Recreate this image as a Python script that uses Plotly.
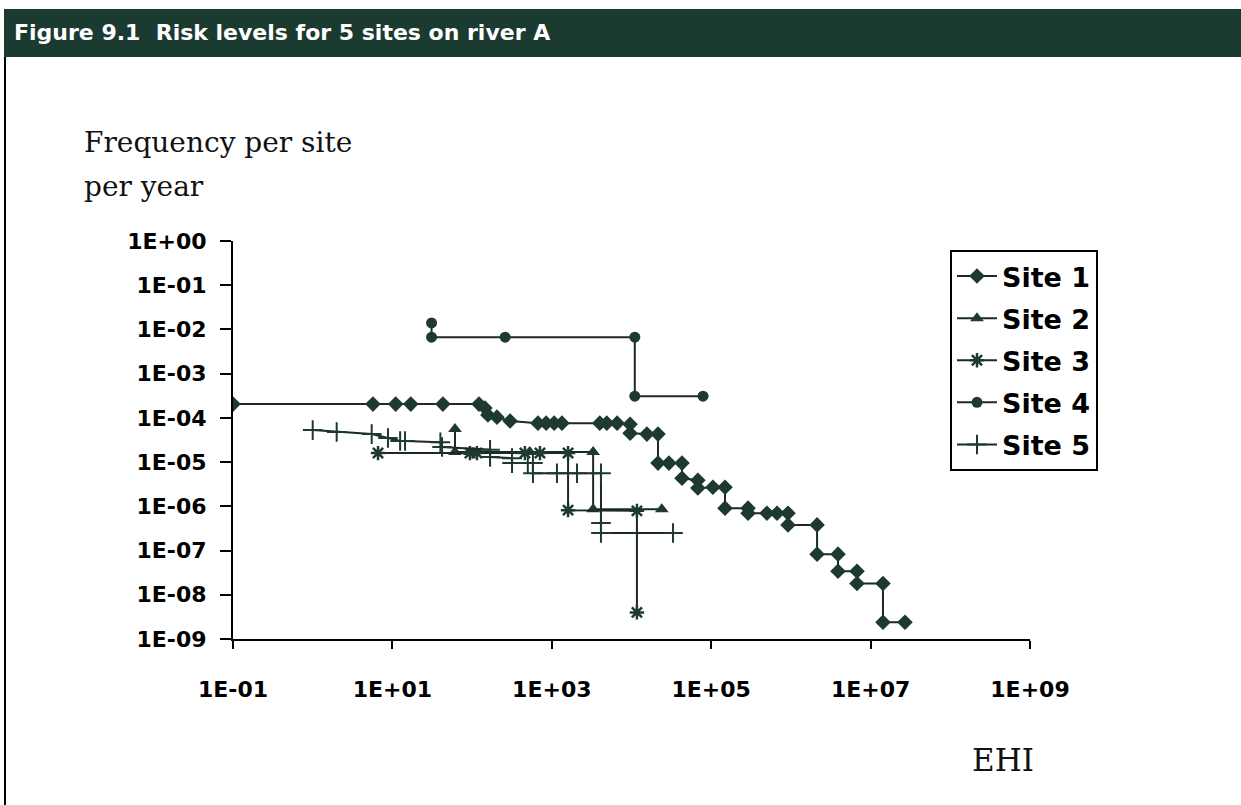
import plotly.graph_objects as go

# ---------------- data ----------------
site1_x = [0.1, 5.7, 11, 17, 43, 122, 145, 158, 205, 300, 670, 850, 1070, 1340,
           4000, 4900, 6600, 9600, 9600, 15600, 21500, 21500, 29500, 43000, 43000,
           68000, 68000, 105000, 149000, 149000, 290000, 290000, 500000, 670000,
           920000, 920000, 2.13e6, 2.13e6, 3.9e6, 3.9e6, 6.75e6, 6.75e6, 1.43e7,
           1.43e7, 2.7e7]
site1_y = [2.05e-4, 2.05e-4, 2.05e-4, 2.05e-4, 2.05e-4, 2.05e-4, 1.67e-4, 1.16e-4,
           1.04e-4, 8.5e-5, 7.6e-5, 7.6e-5, 7.6e-5, 7.6e-5, 7.6e-5, 7.6e-5, 7.6e-5,
           7.2e-5, 4.5e-5, 4.3e-5, 4.3e-5, 9.5e-6, 9.5e-6, 9.5e-6, 4.3e-6, 3.9e-6,
           2.6e-6, 2.7e-6, 2.7e-6, 9.1e-7, 9.1e-7, 7.0e-7, 7.0e-7, 7.0e-7, 7.0e-7,
           3.8e-7, 3.8e-7, 8.3e-8, 8.3e-8, 3.4e-8, 3.4e-8, 1.8e-8, 1.8e-8, 2.4e-9,
           2.4e-9]

site2_x = [61, 61, 94, 530, 3300, 3300, 24000]
site2_y = [5.6e-5, 1.7e-5, 1.7e-5, 1.7e-5, 1.7e-5, 8.6e-7, 8.6e-7]

site3_x = [6.6, 94, 115, 460, 710, 1600, 1600, 11700, 11700]
site3_y = [1.6e-5, 1.6e-5, 1.6e-5, 1.6e-5, 1.6e-5, 1.6e-5, 8.2e-7, 7.9e-7, 4.0e-9]

site4_x = [31, 31, 260, 11000, 11000, 79000]
site4_y = [1.4e-2, 6.7e-3, 6.7e-3, 6.7e-3, 3.1e-4, 3.1e-4]

site5_x = [1.0, 2.0, 5.5, 8.8, 12.5, 14.4, 40, 42, 168, 168, 317, 317, 500, 580,
           580, 1160, 2070, 4140, 4140, 4140, 33200]
site5_y = [5.3e-5, 4.8e-5, 4.3e-5, 3.5e-5, 3.0e-5, 3.0e-5, 2.8e-5, 2.2e-5, 1.9e-5,
           1.3e-5, 1.23e-5, 9.5e-6, 9.5e-6, 9.5e-6, 5.6e-6, 5.6e-6, 5.6e-6, 5.6e-6,
           4.2e-7, 2.5e-7, 2.5e-7]

series_names = ["Site 1", "Site 2", "Site 3", "Site 4", "Site 5"]

x_tickvals = [1e-1, 1e1, 1e3, 1e5, 1e7, 1e9]
x_ticktext = ["1E-01", "1E+01", "1E+03", "1E+05", "1E+07", "1E+09"]
y_tickvals = [1e0, 1e-1, 1e-2, 1e-3, 1e-4, 1e-5, 1e-6, 1e-7, 1e-8, 1e-9]
y_ticktext = ["1E+00", "1E-01", "1E-02", "1E-03", "1E-04", "1E-05", "1E-06",
              "1E-07", "1E-08", "1E-09"]

# ---------------- layout helpers ----------------
W, H = 1241, 805
L, R, T, B = 233, 1030, 241, 639


def px(x):
    return (x - L) / (R - L)


def py(y):
    return (B - y) / (B - T)


LINE = "#1c2924"
MARK = "#1e3a30"

styles = [
    dict(symbol="diamond", size=12, color=MARK, line=dict(width=0)),
    dict(symbol="triangle-up", size=12, color=MARK, line=dict(width=0)),
    dict(symbol="asterisk-open", size=12, color=MARK, line=dict(width=2.5, color=MARK)),
    dict(symbol="circle", size=11, color=MARK, line=dict(width=0)),
    dict(symbol="cross-thin-open", size=14, color=MARK, line=dict(width=2, color=MARK)),
]

xs = [site1_x, site2_x, site3_x, site4_x, site5_x]
ys = [site1_y, site2_y, site3_y, site4_y, site5_y]

fig = go.Figure()
for i, name in enumerate(series_names):
    fig.add_trace(go.Scatter(
        x=xs[i], y=ys[i], name=name, mode="lines+markers",
        line=dict(color=LINE, width=2),
        marker=styles[i], legendgroup=name,
    ))

tickfont = dict(family="DejaVu Sans", size=22, color="black", weight="bold")

fig.update_layout(
    width=W, height=H,
    margin=dict(l=L, r=W - R, t=T, b=H - B),
    paper_bgcolor="white", plot_bgcolor="white",
    showlegend=True,
    legend=dict(
        x=px(950), y=py(250), xanchor="left", yanchor="top",
        bgcolor="white", bordercolor="black", borderwidth=2,
        font=dict(family="DejaVu Sans", size=27, color="black", weight="bold"),
        tracegroupgap=4, itemwidth=40,
    ),
    xaxis=dict(
        type="log", range=[-1, 9], tickvals=x_tickvals, ticktext=x_ticktext,
        showgrid=False, zeroline=False, showline=True, linecolor="black",
        linewidth=2, ticks="outside", ticklen=8, tickwidth=2, tickcolor="black",
        tickfont=tickfont, ticklabelstandoff=22,
    ),
    yaxis=dict(
        type="log", range=[-9, 0], tickvals=y_tickvals, ticktext=y_ticktext,
        showgrid=False, zeroline=False, showline=True, linecolor="black",
        linewidth=2, ticks="outside", ticklen=11, tickwidth=2, tickcolor="black",
        tickfont=tickfont, ticklabelstandoff=9,
    ),
    shapes=[
        dict(type="rect", xref="paper", yref="paper",
             x0=px(4), x1=px(1245), y0=py(57), y1=py(9),
             fillcolor="#1b3a30", line=dict(width=0), layer="above"),
        dict(type="line", xref="paper", yref="paper",
             x0=px(5), x1=px(5), y0=py(57), y1=py(810),
             line=dict(color="black", width=2)),
    ],
    annotations=[
        dict(text="Figure 9.1  Risk levels for 5 sites on river A",
             xref="paper", yref="paper", x=px(12), y=py(33),
             xanchor="left", yanchor="middle", showarrow=False,
             font=dict(family="DejaVu Sans", size=22, color="white", weight="bold")),
        dict(text="Frequency per site", xref="paper", yref="paper",
             x=px(82), y=py(142), xanchor="left", yanchor="middle", showarrow=False,
             font=dict(family="DejaVu Serif", size=28, color="#111")),
        dict(text="per year", xref="paper", yref="paper",
             x=px(82), y=py(186), xanchor="left", yanchor="middle", showarrow=False,
             font=dict(family="DejaVu Serif", size=28, color="#111")),
        dict(text="EHI", xref="paper", yref="paper",
             x=px(1036), y=py(760), xanchor="right", yanchor="middle", showarrow=False,
             font=dict(family="DejaVu Serif", size=31, color="#111")),
    ],
)

fig.write_html("out.html")
